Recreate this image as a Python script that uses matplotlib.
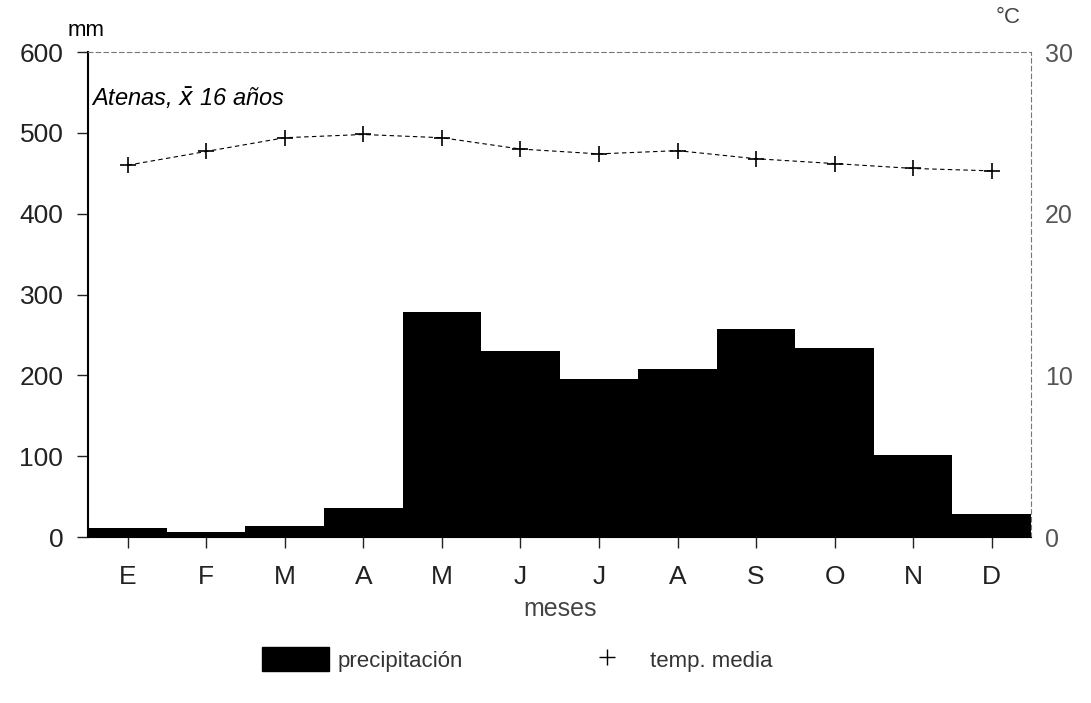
import matplotlib.pyplot as plt
from matplotlib.lines import Line2D
from matplotlib.patches import Patch

plt.rcParams['font.family'] = ['Liberation Sans', 'DejaVu Sans']

meses = ["E", "F", "M", "A", "M", "J", "J", "A", "S", "O", "N", "D"]
precipitacion = [11, 6, 14, 36, 278, 230, 195, 208, 258, 234, 101, 29]
temp_media = [23.0, 23.85, 24.7, 24.9, 24.7, 24.0, 23.7, 23.9, 23.4, 23.1, 22.8, 22.65]
mm_ticks = [0, 100, 200, 300, 400, 500, 600]
c_ticks = [0, 10, 20, 30]

fig = plt.figure(figsize=(10.91, 7.03), dpi=100)
ax = fig.add_axes([0.081, 0.236, 0.864, 0.69])
x = list(range(len(meses)))

# bars: precipitation
ax.bar(x, precipitacion, width=1.0, color="black", align="center")
ax.set_xlim(-0.5, 11.5)
ax.set_ylim(0, 600)
ax.set_yticks(mm_ticks)
ax.set_xticks(x)
ax.set_xticklabels(meses)
ax.tick_params(axis="both", labelsize=19, length=8, width=1, direction="out",
               colors="#222222")
ax.tick_params(axis="y", pad=10)
ax.tick_params(axis="x", pad=12)
ax.set_xlabel("meses", fontsize=18, labelpad=6, color="#444444")

for side in ["top", "right"]:
    ax.spines[side].set_linestyle((0, (4, 3)))
    ax.spines[side].set_color("#777777")
ax.spines["left"].set_linewidth(1.5)

# temperature on right axis
ax2 = ax.twinx()
ax2.plot(x, temp_media, color="black", linestyle=(0, (4, 3)), linewidth=0.8,
         marker="+", markersize=12, markeredgewidth=1.2)
ax2.set_ylim(0, 30)
ax2.set_yticks(c_ticks)
ax2.tick_params(axis="y", labelsize=18, length=0, pad=10, labelcolor="#555555")
for side in ["top", "right", "left", "bottom"]:
    ax2.spines[side].set_visible(False)

fig.text(0.062, 0.957, "mm", fontsize=16, ha="left", va="center")
fig.text(0.913, 0.975, "°C", fontsize=16, ha="left", va="center", color="#444444")
ax.text(0.003, 0.905, r"Atenas, $\bar{x}$ 16 años", transform=ax.transAxes,
        fontsize=17, style="italic", ha="left", va="center")

handles = [Patch(facecolor="black", edgecolor="black"),
           Line2D([], [], color="black", linestyle="none", marker="+", markersize=12)]
fig.legend(handles, ["precipitación", "temp. media"], loc="center",
           bbox_to_anchor=(0.474, 0.062), ncol=2, frameon=False, fontsize=16,
           handlelength=3.0, handleheight=1.3, handletextpad=0.4,
           columnspacing=5.0, labelcolor="#333333")

fig.savefig("out.png", dpi=100)
